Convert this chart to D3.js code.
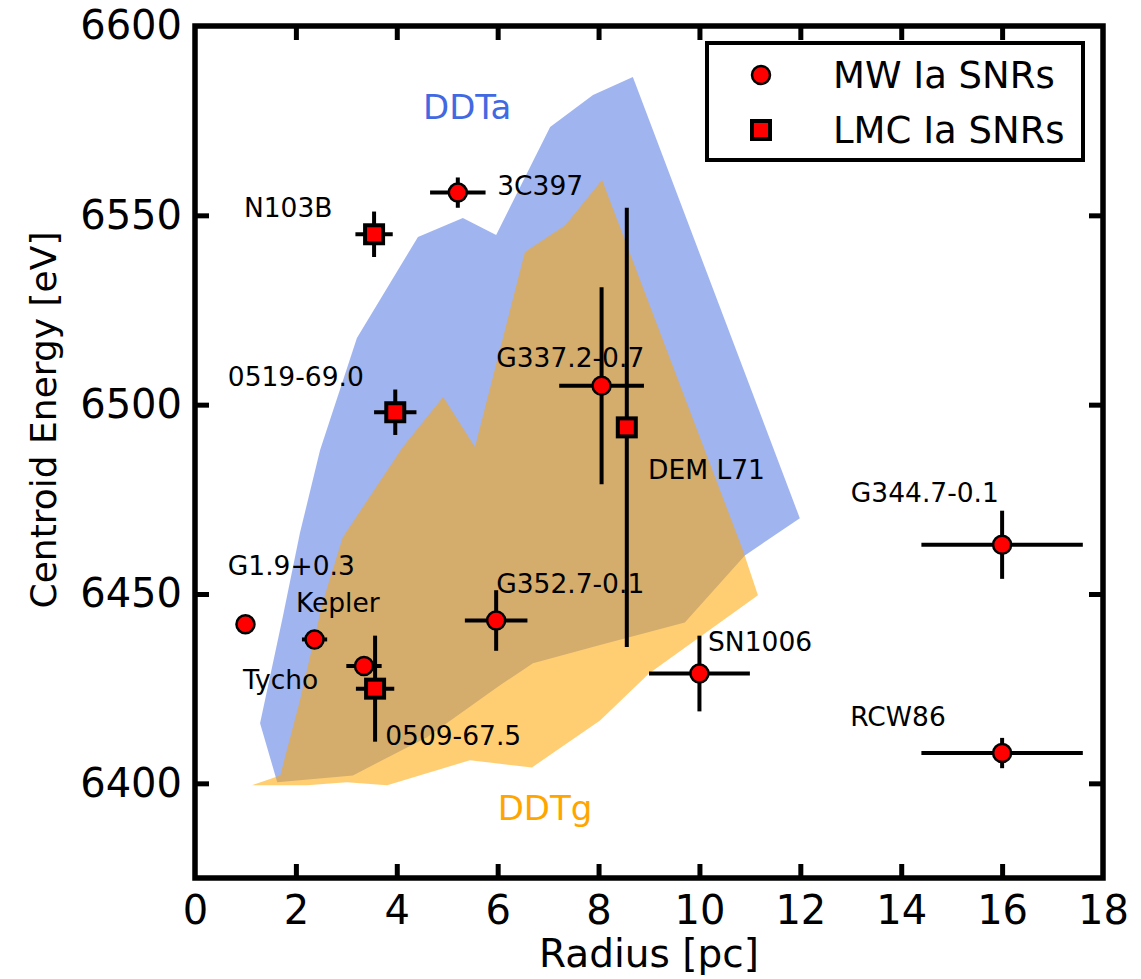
<!DOCTYPE html>
<html>
<head>
<meta charset="utf-8">
<script src="https://cdn.jsdelivr.net/npm/d3@7"></script>
<style>
  html, body { margin: 0; padding: 0; background: #fff; }
  svg text { font-family: "DejaVu Sans", sans-serif; fill: #000; }
</style>
</head>
<body>
<svg id="chart" width="1141" height="979"></svg>
<script>
// Milky Way Type Ia remnants
const mwNames      = ["G1.9+0.3", "Kepler", "Tycho", "3C397", "G352.7-0.1", "G337.2-0.7", "SN1006", "G344.7-0.1", "RCW86"];
const mwRadius     = [1.0, 2.37, 3.35, 5.21, 5.97, 8.06, 10.0, 16.0, 16.0];
const mwRadiusErr  = [0, 0.25, 0.35, 0.55, 0.62, 0.84, 1.0, 1.6, 1.6];
const mwEnergy     = [6442, 6438, 6431, 6556, 6443, 6505, 6429, 6463, 6408];
const mwEnergyErr  = [0, 1, 1, 4, 8, 26, 10, 9, 4];

// Large Magellanic Cloud Type Ia remnants
const lmcNames     = ["N103B", "0519-69.0", "0509-67.5", "DEM L71"];
const lmcRadius    = [3.55, 3.97, 3.57, 8.56];
const lmcRadiusErr = [0.37, 0.42, 0.38, 0];
const lmcEnergy    = [6545, 6498, 6425, 6494];
const lmcEnergyErr = [6, 6, 14, 58];

// Text anchors for the remnant names (radius, energy)
const labelNames   = ["N103B", "3C397", "0519-69.0", "G337.2-0.7", "DEM L71", "G344.7-0.1", "G1.9+0.3", "Kepler", "G352.7-0.1", "Tycho", "0509-67.5", "SN1006", "RCW86"];
const labelRadius  = [0.97, 5.99, 0.65, 5.97, 8.98, 13.0, 0.65, 2.0, 5.97, 0.95, 3.77, 10.17, 12.99];
const labelEnergy  = [6549.5, 6555.4, 6504.9, 6509.9, 6480.3, 6474.2, 6455.0, 6445.2, 6450.2, 6424.8, 6410.0, 6434.9, 6415.1];

// Model envelopes: DDTa and DDTg
const ddtaRadius = [1.29, 1.74, 2.08, 2.48, 3.21, 4.42, 5.31, 5.97, 7.04, 7.89, 8.68, 11.99, 10.90, 9.71, 8.03, 6.70, 5.99, 4.60, 3.13, 1.63];
const ddtaEnergy = [6415.9, 6443.9, 6466.1, 6488.0, 6517.6, 6544.3, 6549.3, 6544.8, 6573.3, 6581.8, 6586.5, 6470.0, 6460.2, 6442.5, 6436.5, 6431.7, 6425.4, 6412.2, 6402.1, 6400.3];
const ddtgRadius = [1.13, 2.22, 3.01, 3.81, 5.45, 6.68, 8.03, 9.0, 11.16, 10.86, 8.07, 7.34, 6.54, 5.55, 4.92, 4.12, 2.93, 2.54, 2.08, 1.69];
const ddtgEnergy = [6399.5, 6399.5, 6400.3, 6399.5, 6406.1, 6404.2, 6416.6, 6429.0, 6449.7, 6461.6, 6559.3, 6547.4, 6540.3, 6488.8, 6502.0, 6488.8, 6465.0, 6448.3, 6421.9, 6402.1];

const xTicks = [0, 2, 4, 6, 8, 10, 12, 14, 16, 18];
const yTicks = [6400, 6450, 6500, 6550, 6600];

const svg = d3.select("#chart");
const frame = { left: 195, right: 1103, top: 26, bottom: 878 };

const x = d3.scaleLinear().domain([0, 18]).range([frame.left, frame.right]);
const y = d3.scaleLinear().domain([6375, 6600]).range([frame.bottom, frame.top]);

const plot = svg.append("g");

const outline = d3.line().x(d => x(d[0])).y(d => y(d[1]));
const ddta = d3.zip(ddtaRadius, ddtaEnergy);
const ddtg = d3.zip(ddtgRadius, ddtgEnergy);

plot.append("path").attr("d", outline(ddta) + "Z")
  .attr("fill", "royalblue").attr("fill-opacity", 0.5);
plot.append("path").attr("d", outline(ddtg) + "Z")
  .attr("fill", "orange").attr("fill-opacity", 0.55);

plot.append("text").attr("x", x(4.52)).attr("y", y(6575.4))
  .attr("font-size", 34).style("fill", "royalblue").text("DDTa");
plot.append("text").attr("x", x(6.0)).attr("y", y(6390.2))
  .attr("font-size", 34).style("fill", "orange").text("DDTg");

// Error bars
function errorBars(rad, radErr, en, enErr) {
  const g = plot.append("g").attr("stroke", "#000").attr("stroke-width", 4);
  rad.forEach((r, i) => {
    if (radErr[i] > 0) g.append("line")
      .attr("x1", x(r - radErr[i])).attr("x2", x(r + radErr[i]))
      .attr("y1", y(en[i])).attr("y2", y(en[i]));
    if (enErr[i] > 0) g.append("line")
      .attr("x1", x(r)).attr("x2", x(r))
      .attr("y1", y(en[i] - enErr[i])).attr("y2", y(en[i] + enErr[i]));
  });
}
errorBars(mwRadius, mwRadiusErr, mwEnergy, mwEnergyErr);
errorBars(lmcRadius, lmcRadiusErr, lmcEnergy, lmcEnergyErr);

// Markers
plot.append("g").selectAll("circle").data(d3.zip(mwRadius, mwEnergy)).join("circle")
  .attr("cx", d => x(d[0])).attr("cy", d => y(d[1])).attr("r", 9)
  .attr("fill", "red").attr("stroke", "#000").attr("stroke-width", 2.5);
plot.append("g").selectAll("rect").data(d3.zip(lmcRadius, lmcEnergy)).join("rect")
  .attr("x", d => x(d[0]) - 9).attr("y", d => y(d[1]) - 9).attr("width", 18).attr("height", 18)
  .attr("fill", "red").attr("stroke", "#000").attr("stroke-width", 4);

// Remnant names
plot.append("g").selectAll("text").data(d3.zip(labelNames, labelRadius, labelEnergy)).join("text")
  .attr("x", d => x(d[1])).attr("y", d => y(d[2]))
  .attr("font-size", 26.5).text(d => d[0]);

// Axes with inward ticks on all four sides
const tickLen = 14;
const axB = svg.append("g").attr("transform", `translate(0,${frame.bottom})`)
  .call(d3.axisBottom(x).tickValues(xTicks).tickFormat(d3.format("d")).tickSizeInner(-tickLen).tickSizeOuter(0).tickPadding(18));
const axT = svg.append("g").attr("transform", `translate(0,${frame.top})`)
  .call(d3.axisTop(x).tickValues(xTicks).tickFormat("").tickSizeInner(-tickLen).tickSizeOuter(0));
const axL = svg.append("g").attr("transform", `translate(${frame.left},0)`)
  .call(d3.axisLeft(y).tickValues(yTicks).tickFormat(d3.format("d")).tickSizeInner(-tickLen).tickSizeOuter(0).tickPadding(13));
const axR = svg.append("g").attr("transform", `translate(${frame.right},0)`)
  .call(d3.axisRight(y).tickValues(yTicks).tickFormat("").tickSizeInner(-tickLen).tickSizeOuter(0));

[axB, axT, axL, axR].forEach(a => {
  a.select(".domain").remove();
  a.selectAll(".tick line").attr("stroke", "#000").attr("stroke-width", 5);
  a.selectAll(".tick text").attr("font-size", 40).attr("font-family", "DejaVu Sans").style("fill", "#000");
});
// ticks that coincide with the frame corners are not drawn
axT.selectAll(".tick").filter(d => d === 0 || d === 18).select("line").remove();
axB.selectAll(".tick").filter(d => d === 0 || d === 18).select("line").remove();
axL.selectAll(".tick").filter(d => d === 6600).select("line").remove();
axR.selectAll(".tick").filter(d => d === 6600).select("line").remove();

svg.append("rect").attr("x", frame.left).attr("y", frame.top)
  .attr("width", frame.right - frame.left).attr("height", frame.bottom - frame.top)
  .attr("fill", "none").attr("stroke", "#000").attr("stroke-width", 5.5);

// Axis titles
svg.append("text").attr("x", (frame.left + frame.right) / 2).attr("y", 967)
  .attr("text-anchor", "middle").attr("font-size", 39).text("Radius [pc]");
svg.append("text").attr("transform", "translate(56,420) rotate(-90)")
  .attr("text-anchor", "middle").attr("font-size", 36).text("Centroid Energy [eV]");

// Legend
const lg = svg.append("g");
lg.append("rect").attr("x", 707).attr("y", 43).attr("width", 376).attr("height", 117)
  .attr("fill", "#fff").attr("stroke", "#000").attr("stroke-width", 4);
lg.append("circle").attr("cx", 761).attr("cy", 75).attr("r", 9)
  .attr("fill", "red").attr("stroke", "#000").attr("stroke-width", 2.5);
lg.append("rect").attr("x", 752).attr("y", 121).attr("width", 18).attr("height", 18)
  .attr("fill", "red").attr("stroke", "#000").attr("stroke-width", 4);
lg.append("text").attr("x", 833).attr("y", 88).attr("font-size", 37).text("MW Ia SNRs");
lg.append("text").attr("x", 833).attr("y", 143).attr("font-size", 37).text("LMC Ia SNRs");
</script>
</body>
</html>
